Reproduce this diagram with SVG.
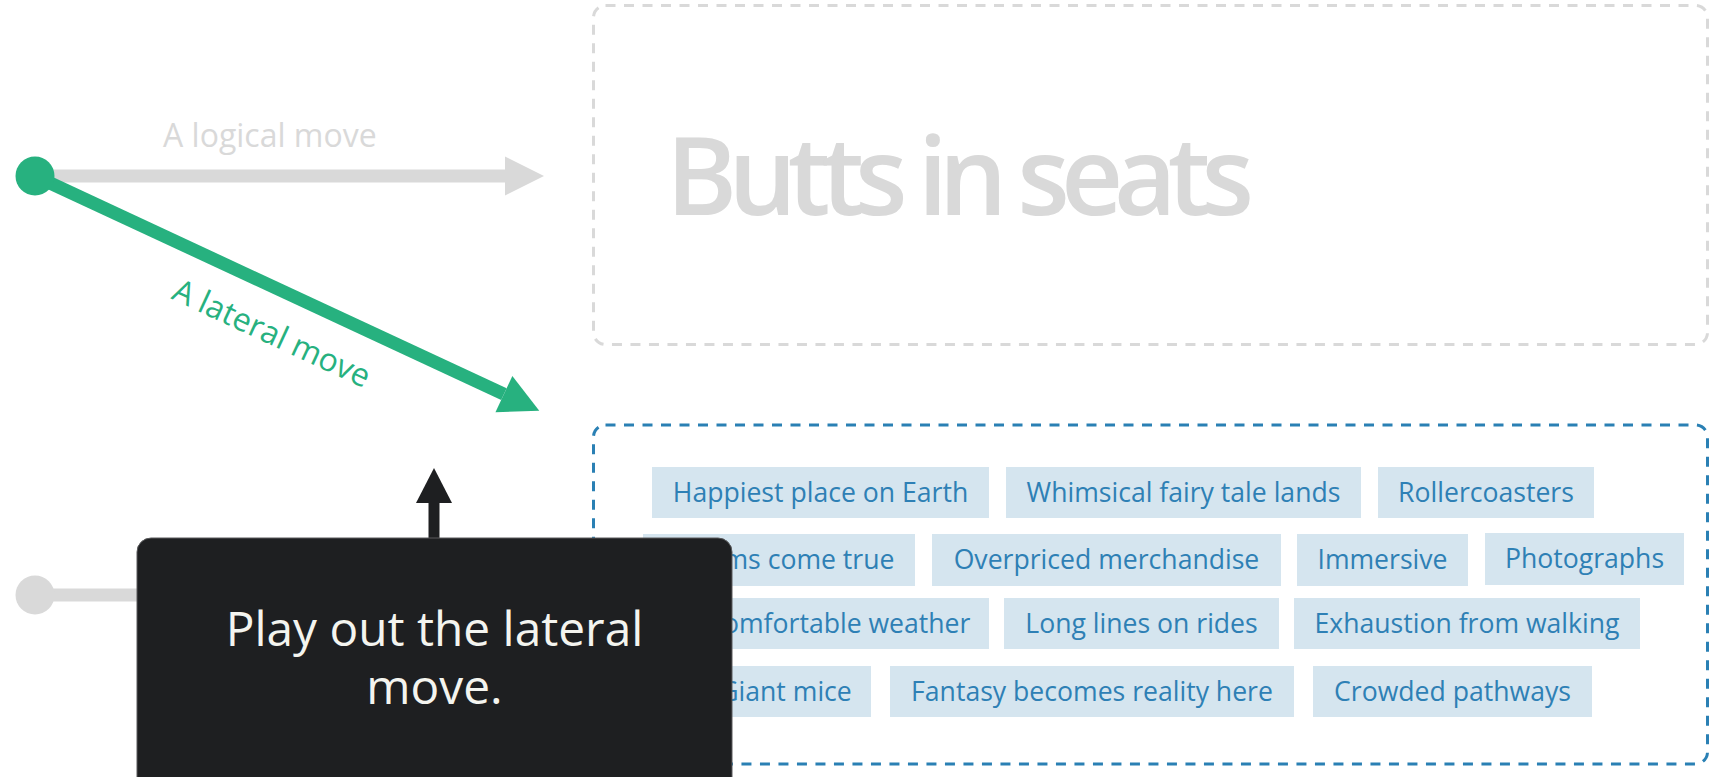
<svg xmlns="http://www.w3.org/2000/svg" width="1716" height="777" viewBox="0 0 1716 777">
<style>
.frame{fill:none;stroke-width:3;stroke-dasharray:10 8.5}
.gray{stroke:#d9d9d9}
.blue{stroke:#2a80b4}
.tag rect{fill:#d5e5ef}
.tag text{font-family:"Open Sans","Liberation Sans",sans-serif;font-size:26.6px;fill:#2e80b5;text-anchor:middle}
.lbl{font-family:"Open Sans","Liberation Sans",sans-serif;font-size:32px}
</style>
<defs>
<marker id="ahGray" markerUnits="userSpaceOnUse" markerWidth="40" markerHeight="40" refX="0" refY="19.5" orient="auto" overflow="visible"><path d="M0,0 L39,19.5 L0,39 z" fill="#d9d9d9"/></marker>
<marker id="ahGreen" markerUnits="userSpaceOnUse" markerWidth="40" markerHeight="40" refX="0" refY="20" orient="auto" overflow="visible"><path d="M0,0 L39,20 L0,40 z" fill="#27b17f"/></marker>
<marker id="ahBlack" markerUnits="userSpaceOnUse" markerWidth="36" markerHeight="36" refX="0" refY="18" orient="auto" overflow="visible"><path d="M0,0 L35,18 L0,36 z" fill="#1e1f21"/></marker>
</defs>
<rect width="1716" height="777" fill="#ffffff"/>

<g id="box-butts">
<rect class="frame gray" x="593.5" y="5.5" width="1114" height="339" rx="12"/>
<text x="666" y="215" font-family="'Open Sans','Liberation Sans',sans-serif" font-weight="600" font-size="108" fill="#d9d9d9" textLength="588" lengthAdjust="spacing">Butts in seats</text>
</g>

<g id="box-lateral">
<rect class="frame blue" x="593.5" y="425" width="1114" height="339" rx="12"/>
<g class="tag" id="tag-happiest"><rect x="652" y="467" width="337" height="51"/><text x="820.5" y="502">Happiest place on Earth</text></g>
<g class="tag" id="tag-whimsical"><rect x="1006" y="467" width="355" height="51"/><text x="1183.5" y="502">Whimsical fairy tale lands</text></g>
<g class="tag" id="tag-roller"><rect x="1378" y="467" width="216" height="51"/><text x="1486" y="502">Rollercoasters</text></g>
<g class="tag" id="tag-dreams"><rect x="643" y="534" width="272" height="52"/><text x="779" y="569">Dreams come true</text></g>
<g class="tag" id="tag-overpriced"><rect x="932" y="534" width="349" height="52"/><text x="1106.5" y="569">Overpriced merchandise</text></g>
<g class="tag" id="tag-immersive"><rect x="1297" y="534" width="171" height="52"/><text x="1382.5" y="569">Immersive</text></g>
<g class="tag" id="tag-photo"><rect x="1485" y="533" width="199" height="52"/><text x="1584.5" y="568">Photographs</text></g>
<g class="tag" id="tag-weather"><rect x="656" y="598" width="333" height="51"/><text x="822.5" y="633">Uncomfortable weather</text></g>
<g class="tag" id="tag-lines"><rect x="1004" y="598" width="275" height="51"/><text x="1141.5" y="633">Long lines on rides</text></g>
<g class="tag" id="tag-exhaustion"><rect x="1294" y="598" width="346" height="51"/><text x="1467" y="633">Exhaustion from walking</text></g>
<g class="tag" id="tag-mice"><rect x="700" y="666" width="171" height="51"/><text x="785.5" y="701">Giant mice</text></g>
<g class="tag" id="tag-fantasy"><rect x="890" y="666" width="404" height="51"/><text x="1092" y="701">Fantasy becomes reality here</text></g>
<g class="tag" id="tag-crowded"><rect x="1313" y="666" width="279" height="51"/><text x="1452.5" y="701">Crowded pathways</text></g>
</g>

<g id="connectors">
<line x1="35" y1="176" x2="505" y2="176" stroke="#d9d9d9" stroke-width="13" marker-end="url(#ahGray)"/>
<line x1="35" y1="595" x2="220" y2="595" stroke="#d9d9d9" stroke-width="13"/>
<line x1="35" y1="176" x2="503.9" y2="394.2" stroke="#27b17f" stroke-width="13" marker-end="url(#ahGreen)"/>
<line x1="434" y1="540" x2="434" y2="503" stroke="#1e1f21" stroke-width="11" marker-end="url(#ahBlack)"/>
<text class="lbl" x="163" y="147" fill="#d9d9d9">A logical move</text>
<text class="lbl" transform="translate(35,176) rotate(24.9)" x="281" y="54" fill="#27b17f" text-anchor="middle">A lateral move</text>
</g>

<g id="start-logical">
<circle cx="35" cy="176" r="19.5" fill="#27b17f"/>
</g>
<g id="start-other">
<circle cx="35" cy="595" r="19.5" fill="#d9d9d9"/>
</g>

<g id="callout">
<rect x="137" y="538" width="595" height="270" rx="14" fill="#1e1f21" stroke="#5a5b5d" stroke-width="1"/>
<text font-family="'Open Sans','Liberation Sans',sans-serif" font-size="47.8" fill="#f4f4ef" text-anchor="middle"><tspan x="434.5" y="646">Play out the lateral</tspan><tspan x="434.5" y="704">move.</tspan></text>
</g>
</svg>
